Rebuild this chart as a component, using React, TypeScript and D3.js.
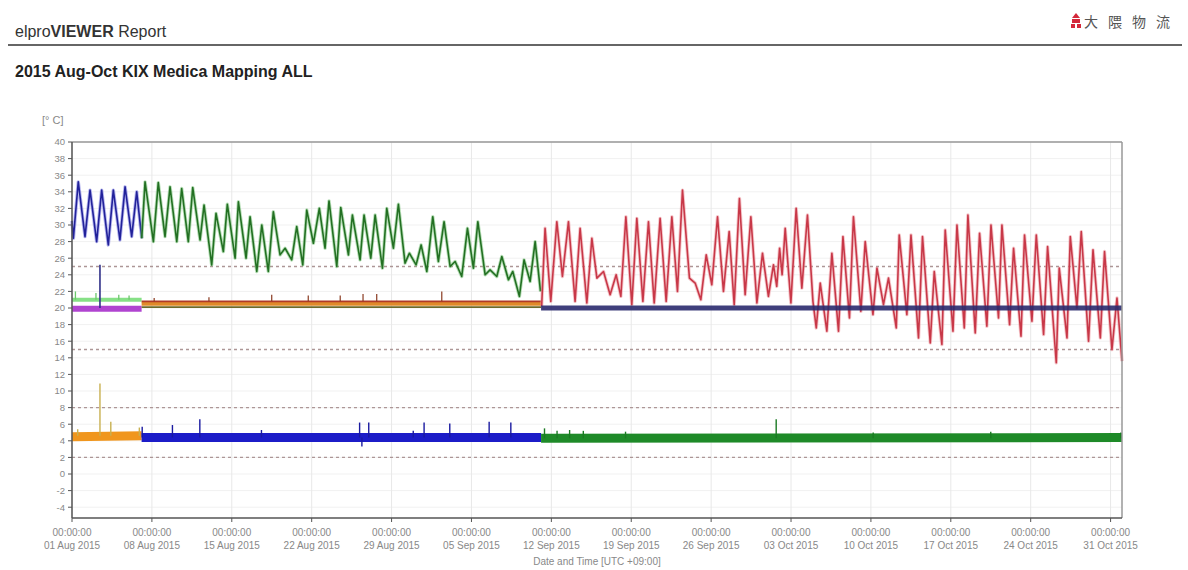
import React from 'react';
import * as d3 from 'd3';

type P = [number, number];

// day offsets from 01 Aug 2015 00:00 (UTC+09:00), temperature in °C
const blueTop: P[] = [
  [0, 30.5], [0.12, 28.4], [0.55, 35.2], [1.14, 28.6], [1.58, 34.2], [2.16, 28.0], [2.6, 34.2],
  [3.18, 27.6], [3.62, 34.2], [4.2, 28.2], [4.65, 34.6], [5.23, 28.6], [5.67, 34.0], [6.11, 28.4],
];

const greenTop: P[] = [
  [6.11, 28.4], [6.4, 35.2], [7.13, 28.0], [7.56, 35.1], [8.15, 28.6], [8.59, 34.6], [9.18, 28.0],
  [9.61, 34.4], [10.19, 28.0], [10.58, 34.5], [11.22, 28.2], [11.57, 32.4], [12.24, 25.2], [12.62, 31.4],
  [13.26, 26.8], [13.61, 32.5], [14.29, 26.0], [14.58, 32.8], [15.25, 26.0], [15.6, 31.0], [16.19, 24.4],
  [16.63, 30.0], [17.2, 24.4], [17.64, 31.6], [18.23, 26.4], [18.67, 27.2], [19.25, 25.8], [19.69, 29.8],
  [20.22, 25.2], [20.57, 31.8], [21.15, 27.8], [21.67, 32.0], [22.17, 27.2], [22.52, 32.9], [23.2, 25.0],
  [23.55, 32.1], [24.22, 26.4], [24.57, 31.2], [25.24, 25.8], [25.59, 31.2], [26.18, 26.0], [26.56, 31.2],
  [27.2, 24.8], [27.58, 32.0], [28.16, 27.2], [28.6, 32.5], [29.18, 25.4], [29.56, 26.6], [30.15, 25.2],
  [30.59, 27.6], [31.09, 24.4], [31.61, 31.0], [32.1, 25.6], [32.6, 30.4], [33.13, 25.0], [33.57, 25.6],
  [34.15, 23.8], [34.65, 29.6], [35.17, 24.8], [35.56, 30.4], [36.2, 24.0], [36.63, 24.6], [37.22, 23.8],
  [37.66, 26.2], [38.24, 23.4], [38.62, 24.4], [39.2, 21.4], [39.61, 25.8], [40.14, 23.2], [40.58, 28.0],
  [41.05, 22.0],
];

const redTop: P[] = [
  [41.15, 20.2], [41.45, 29.6], [41.95, 20.8], [42.48, 30.4], [42.97, 23.8], [43.5, 30.4], [44.08, 20.8],
  [44.52, 29.6], [45.11, 20.6], [45.55, 28.4], [45.99, 23.6], [46.57, 24.4], [47.15, 21.6], [47.68, 24.0],
  [48.09, 21.4], [48.53, 31.0], [49.05, 20.4], [49.49, 30.8], [50.02, 20.8], [50.51, 30.4], [51.01, 20.6],
  [51.53, 30.8], [52.06, 20.8], [52.56, 31.0], [53.05, 22.0], [53.49, 34.2], [54.1, 23.6], [54.6, 23.0],
  [55.1, 21.0], [55.57, 26.4], [56.06, 22.8], [56.56, 31.0], [57.08, 22.0], [57.58, 29.2], [58.02, 20.4],
  [58.48, 33.2], [58.98, 21.6], [59.48, 31.0], [60.01, 20.6], [60.5, 26.6], [61.02, 21.4], [61.46, 25.2],
  [61.75, 22.6], [62.0, 27.2], [62.22, 24.0], [62.49, 29.6], [62.99, 20.6], [63.45, 32.0], [63.95, 22.4],
  [64.44, 31.2], [64.92, 20.8], [65.21, 17.6], [65.56, 23.0], [66.14, 17.2], [66.58, 26.6], [67.16, 17.2],
  [67.55, 28.6], [68.12, 18.8], [68.47, 31.0], [69.12, 19.6], [69.5, 28.0], [70.18, 19.2], [70.53, 24.8],
  [71.1, 20.4], [71.54, 23.6], [72.22, 17.6], [72.48, 28.8], [73.15, 19.2], [73.51, 28.8], [74.17, 16.4],
  [74.52, 28.6], [75.2, 15.8], [75.55, 24.4], [76.22, 15.6], [76.51, 29.4], [77.19, 17.2], [77.54, 30.0],
  [78.18, 17.6], [78.5, 31.2], [79.14, 17.0], [79.52, 29.0], [80.16, 17.8], [80.52, 30.0], [81.18, 18.8],
  [81.48, 30.0], [82.15, 18.0], [82.5, 27.2], [83.15, 16.6], [83.46, 28.8], [84.11, 18.4], [84.49, 28.8],
  [85.13, 16.8], [85.48, 27.4], [86.24, 13.4], [86.5, 24.8], [87.18, 16.4], [87.47, 28.6], [88.05, 20.0],
  [88.43, 29.2], [89.07, 16.0], [89.46, 27.0], [90.1, 16.4], [90.47, 26.8], [91.12, 15.0], [91.56, 21.2],
  [92.0, 13.6],
];

// ~20 °C loggers
const lightGreen20: P[] = [[0, 21.0], [6.1, 21.0]];
const lightGreen20Spikes: P[] = [[0.3, 22.0], [2.1, 21.8], [4.1, 21.6], [5.0, 21.5]];
const purple20: P[] = [[0, 19.9], [6.1, 19.9]];
const navySpike: P[] = [[2.45, 25.2]];
const orange20: P[] = [[6.1, 20.5], [41.1, 20.5]];
const redBrown20: P[] = [[6.1, 20.8], [41.1, 20.8]];
const redBrown20Spikes: P[] = [[7.2, 21.2], [12.0, 21.3], [17.5, 21.6], [20.7, 21.5], [23.5, 21.5], [25.5, 21.7], [26.7, 21.7], [32.4, 22.0]];
const olive20: P[] = [[6.1, 20.1], [41.1, 20.1]];
const navy20: P[] = [[41.1, 20.0], [92, 20.0]];

// ~4 °C loggers
const lowOrange: P[] = [[0, 4.5], [6.1, 4.6]];
const lowOrangeSpikes: P[] = [[0.5, 5.4], [2.45, 10.9], [3.4, 6.3], [5.9, 5.6]];
const lowBlue: P[] = [[6.1, 4.4], [41.1, 4.4]];
const lowBlueSpikes: P[] = [[6.15, 5.7], [8.8, 5.9], [11.2, 6.6], [16.6, 5.3], [25.2, 6.2], [25.4, 3.3], [26.0, 6.2], [29.9, 5.2], [30.85, 6.2], [33.1, 6.1], [36.55, 6.3], [38.45, 6.2]];
const lowGreen: P[] = [[41.1, 4.3], [92, 4.4]];
const lowGreenSpikes: P[] = [[41.4, 5.5], [42.5, 5.2], [43.6, 5.3], [44.8, 5.2], [48.5, 5.1], [61.7, 6.6], [70.2, 5.0], [80.5, 5.1], [91.9, 5.0]];

const alarmLines = [25, 15, 8, 2];
const yTicks = d3.range(-4, 41, 2);
const xTickDays = [0, 7, 14, 21, 28, 35, 42, 49, 56, 63, 70, 77, 84, 91];
const xTickLabels = [
  '01 Aug 2015', '08 Aug 2015', '15 Aug 2015', '22 Aug 2015', '29 Aug 2015', '05 Sep 2015', '12 Sep 2015',
  '19 Sep 2015', '26 Sep 2015', '03 Oct 2015', '10 Oct 2015', '17 Oct 2015', '24 Oct 2015', '31 Oct 2015',
];

const START = new Date(2015, 7, 1);
const toDate = (d: number) => new Date(START.getTime() + d * 86400000);
const FONT = '"Liberation Sans", Arial, sans-serif';

export default function App() {
  const W = 1188, H = 570;
  const left = 72, right = 1122, top = 142, bottom = 518;
  const x = d3.scaleTime().domain([toDate(0), toDate(92)]).range([left, right]);
  const y = d3.scaleLinear().domain([-5.3, 40]).range([bottom, top]);
  const line = d3.line<P>().x(p => x(toDate(p[0]))).y(p => y(p[1]));

  const spikes = (pts: P[], base: number, color: string, w = 1.3, key = '') =>
    pts.map((p, i) => (
      <line key={key + i} x1={x(toDate(p[0]))} x2={x(toDate(p[0]))} y1={y(base)} y2={y(p[1])} stroke={color} strokeWidth={w} />
    ));

  const band = (pts: P[], color: string, w: number, op = 1) => (
    <path d={line(pts) || ''} fill="none" stroke={color} strokeWidth={w} strokeOpacity={op} />
  );

  const series = (pts: P[], halo: string, core: string) => (
    <g>
      <path d={line(pts) || ''} fill="none" stroke={halo} strokeWidth={3.4} strokeOpacity={0.5} strokeLinejoin="round" />
      <path d={line(pts) || ''} fill="none" stroke={core} strokeWidth={1.6} strokeLinejoin="round" />
    </g>
  );

  return (
    <svg width={W} height={H} style={{ position: 'absolute', left: 0, top: 0, background: '#fff' }} fontFamily={FONT}>
      {/* header */}
      <text x={15} y={37} fontSize={16} fill="#333">
        elpro<tspan fontWeight="bold">VIEWER</tspan> Report
      </text>
      <line x1={8} x2={1182} y1={45} y2={45} stroke="#666" strokeWidth={2} />
      <g fill="#d4283a">
        <path d="M1076,13 L1080,18 L1072,18 Z" />
        <rect x={1072} y={19} width={8} height={4} />
        <rect x={1071} y={24} width={4} height={4} />
        <rect x={1077} y={24} width={4} height={4} />
      </g>
      <text x={1084} y={27} fontSize={14} fill="#555" fontFamily='"Noto Sans CJK JP", sans-serif' letterSpacing={10}>大隈物流</text>
      <text x={15} y={77} fontSize={16} fontWeight="bold" fill="#222">2015 Aug-Oct KIX Medica Mapping ALL</text>

      {/* grid */}
      {yTicks.map(t => (
        <line key={'hg' + t} x1={left} x2={right} y1={y(t)} y2={y(t)} stroke="#f1f1f1" strokeWidth={1} />
      ))}
      {xTickDays.map(d => (
        <line key={'vg' + d} x1={x(toDate(d))} x2={x(toDate(d))} y1={top} y2={bottom} stroke="#e8e8e8" strokeWidth={1} />
      ))}
      {alarmLines.map(a => (
        <line key={'al' + a} x1={left} x2={right} y1={y(a)} y2={y(a)} stroke="#ad9696" strokeWidth={1.4} strokeDasharray="3,3" />
      ))}

      {/* low loggers */}
      {band(lowOrange, '#f0961e', 9)}
      {spikes(lowOrangeSpikes, 4.6, '#c8b050', 1.4, 'os')}
      {band(lowBlue, '#1c1cc8', 9)}
      {spikes(lowBlueSpikes, 4.4, '#1a1aa0', 1.4, 'bs')}
      {band(lowGreen, '#1e8a28', 9)}
      {spikes(lowGreenSpikes, 4.3, '#1a7a22', 1.4, 'gs')}

      {/* ~20 loggers */}
      {band(lightGreen20, '#86e086', 4)}
      {spikes(lightGreen20Spikes, 21.0, '#6cc86c', 1.3, 'lg')}
      {band(purple20, '#b044d0', 6)}
      {spikes(navySpike, 20.0, '#303088', 1.6, 'ns')}
      {band(orange20, '#e08a2a', 4)}
      {band(olive20, '#6e6a28', 1.6)}
      {band(redBrown20, '#b03a28', 1.6)}
      {spikes(redBrown20Spikes, 20.8, '#8a3a20', 1.2, 'rb')}

      {/* top loggers */}
      {series(blueTop, '#7070e0', '#22229a')}
      {series(greenTop, '#70c070', '#237023')}
      {series(redTop, '#ec9098', '#c83848')}
      {band(navy20, '#2a2a6e', 5, 0.9)}

      {/* frame & axes */}
      <line x1={left} x2={right} y1={top} y2={top} stroke="#999" strokeWidth={1.5} />
      <line x1={right} x2={right} y1={top} y2={bottom} stroke="#999" strokeWidth={1.5} />
      <line x1={left} x2={left} y1={top} y2={bottom} stroke="#555" strokeWidth={1.5} />
      <line x1={left} x2={right} y1={bottom} y2={bottom} stroke="#555" strokeWidth={1.5} />

      {yTicks.map(t => (
        <g key={'yt' + t}>
          <line x1={left - 4} x2={left} y1={y(t)} y2={y(t)} stroke="#555" strokeWidth={1} />
          <text x={left - 7} y={y(t) + 3.3} fontSize={9.5} fill="#888" textAnchor="end">{t}</text>
        </g>
      ))}
      <text x={42} y={124} fontSize={11} fill="#888">[° C]</text>

      {xTickDays.map((d, i) => (
        <g key={'xt' + d}>
          <line x1={x(toDate(d))} x2={x(toDate(d))} y1={bottom} y2={bottom + 4} stroke="#555" strokeWidth={1} />
          <text x={x(toDate(d))} y={536} fontSize={10} fill="#888" textAnchor="middle">00:00:00</text>
          <text x={x(toDate(d))} y={549} fontSize={10} fill="#888" textAnchor="middle">{xTickLabels[i]}</text>
        </g>
      ))}
      <text x={(left + right) / 2} y={565} fontSize={10} fill="#888" textAnchor="middle">Date and Time [UTC +09:00]</text>
    </svg>
  );
}
